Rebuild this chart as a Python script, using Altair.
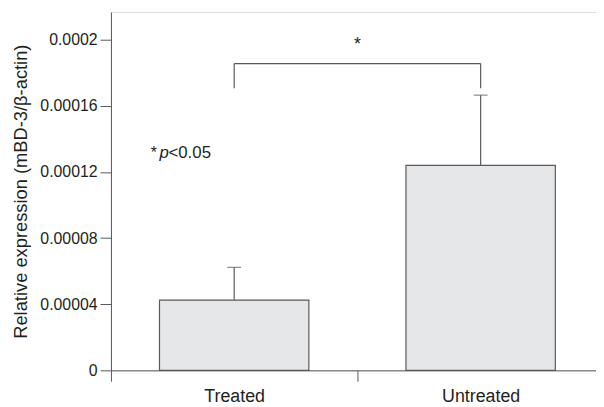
import altair as alt
import pandas as pd

categories = ["Treated", "Untreated"]
means = [0.0000425, 0.000124]
errors = [0.0000198, 0.0000425]
y_ticks = [0, 0.00004, 0.00008, 0.00012, 0.00016, 0.0002]
y_labels = ["0", "0.00004", "0.00008", "0.00012", "0.00016", "0.0002"]
sig_low = 0.0001707
sig_high = 0.0001856
sig_star_y = 0.000197
note_y = 0.0001287
note_x = 0.161

FONT = "Liberation Sans, Arial, sans-serif"
GRAY = "#58595b"
TXT = "#231f20"

df = pd.DataFrame({"cat": categories, "mean": means, "err": errors})
df["pos"] = [i + 0.5 for i in range(len(categories))]
df["left"] = df["pos"] - 0.303
df["right"] = df["pos"] + 0.303
df["top"] = df["mean"] + df["err"]
df["zero"] = 0.0

xscale = alt.Scale(domain=[0, 1.968], nice=False, zero=False)
yscale = alt.Scale(domain=[0, 0.0002168], nice=False)

lab_expr = " : ".join(
    f"datum.value == {p} ? '{c}'" for p, c in zip(df["pos"], categories)
) + " : ''"
ylab_expr = " : ".join(
    f"datum.value == {v} ? '{l}'" for v, l in zip(y_ticks, y_labels)
) + " : ''"

x_axis = alt.Axis(
    values=[0, 0.5, 1, 1.5], labelExpr=lab_expr, title=None,
    tickOpacity={"condition": {"test": "datum.value % 1 == 0", "value": 1}, "value": 0},
    tickSize=11, domainColor=GRAY, tickColor=GRAY, labelColor=TXT,
    labelFont=FONT, labelFontSize=18, labelPadding=6, labelOverlap=False,
    labelFlush=False, grid=False,
)
y_axis = alt.Axis(
    values=y_ticks, labelExpr=ylab_expr, title="Relative expression (mBD-3/β-actin)",
    tickSize=11, domainColor=GRAY, tickColor=GRAY, labelColor=TXT,
    labelFont=FONT, labelFontSize=16, labelPadding=3, titleFont=FONT,
    titleFontSize=18.5, titleFontWeight="normal", titleColor=TXT, titlePadding=9,
    labelFlush=False, grid=False,
)

base = alt.Chart(df)
bars = base.mark_bar(fill="#e6e7e8", stroke=GRAY, strokeWidth=1.2).encode(
    x=alt.X("left:Q", scale=xscale, axis=x_axis),
    x2="right:Q",
    y=alt.Y("mean:Q", scale=yscale, axis=y_axis),
    y2="zero:Q",
)
err_rule = base.mark_rule(color=GRAY, strokeWidth=1.2).encode(
    x="pos:Q", y="mean:Q", y2="top:Q"
)
err_cap = base.mark_tick(color=GRAY, orient="horizontal", size=14, thickness=1.2).encode(
    x="pos:Q", y="top:Q"
)

br = pd.DataFrame({
    "x": [df["pos"][0], df["pos"][0], df["pos"][1]],
    "x2": [df["pos"][1], df["pos"][0], df["pos"][1]],
    "y": [sig_high, sig_low, sig_low],
    "y2": [sig_high, sig_high, sig_high],
})
bracket = alt.Chart(br).mark_rule(color=GRAY, strokeWidth=1.2).encode(
    x="x:Q", x2="x2:Q", y="y:Q", y2="y2:Q"
)
star = alt.Chart(pd.DataFrame({"x": [1.0], "y": [sig_star_y], "t": ["*"]})).mark_text(
    font=FONT, fontSize=18, color=TXT, baseline="middle"
).encode(x="x:Q", y="y:Q", text="t:N")

note = pd.DataFrame({"x": [note_x], "y": [note_y]})
n1 = alt.Chart(note).mark_text(font=FONT, fontSize=16, color=TXT, align="left",
                              baseline="alphabetic", text="*").encode(x="x:Q", y="y:Q")
n2 = alt.Chart(note).mark_text(font=FONT, fontSize=17, color=TXT, align="left",
                              baseline="alphabetic", fontStyle="italic", text="p", dx=9).encode(x="x:Q", y="y:Q")
n3 = alt.Chart(note).mark_text(font=FONT, fontSize=17, color=TXT, align="left",
                              baseline="alphabetic", text="<0.05", dx=18).encode(x="x:Q", y="y:Q")

chart = alt.layer(bars, err_rule, err_cap, bracket, star, n1, n2, n3).properties(
    width=490, height=362,
    autosize=alt.AutoSizeParams(type="none"),
    padding={"left": 104, "top": 2, "right": 0, "bottom": 35},
).configure_view(stroke=None).configure(background="white")

chart.save("out.html", embed_options={"renderer": "svg", "actions": False})
